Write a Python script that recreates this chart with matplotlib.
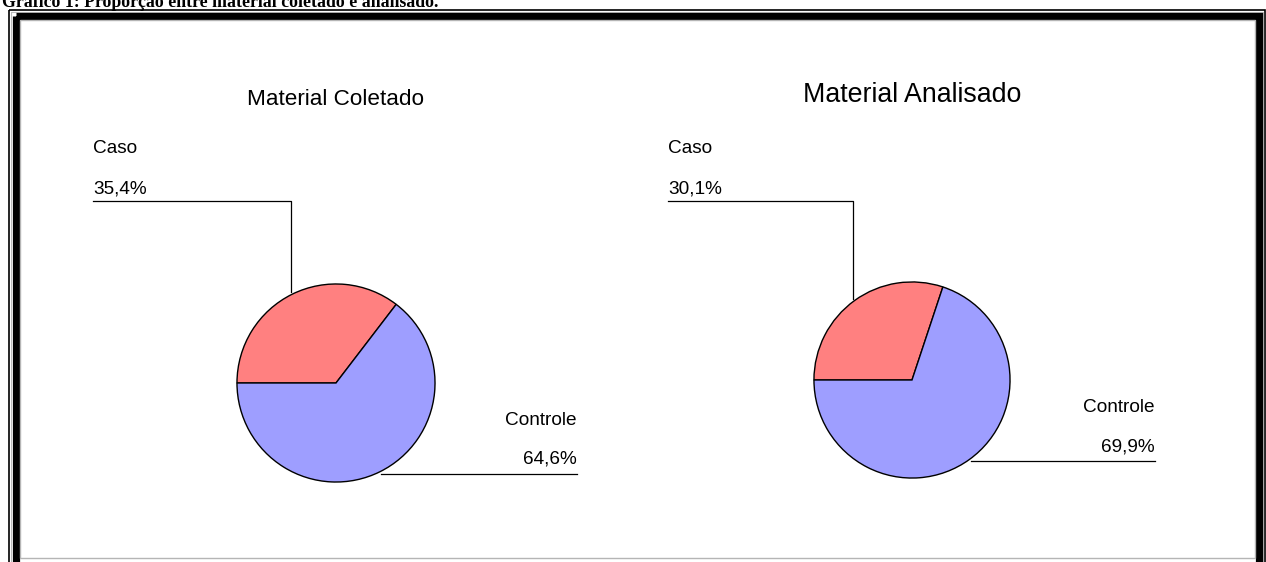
import numpy as np
import matplotlib.pyplot as plt
from matplotlib.patches import Rectangle

# Dados dos dois graficos de pizza
categorias = ["Caso", "Controle"]
coletado = [35.4, 64.6]
analisado = [30.1, 69.9]
titulos = ["Material Coletado", "Material Analisado"]
rotulos_coletado = ["35,4%", "64,6%"]
rotulos_analisado = ["30,1%", "69,9%"]

cores = ["#ff8080", "#9e9eff"]

W, H = 1266, 562
fig = plt.figure(figsize=(W / 100, H / 100), dpi=100)

# eixo de fundo em pixels (moldura, textos e linhas de chamada)
bg = fig.add_axes([0, 0, 1, 1])
bg.set_xlim(0, W)
bg.set_ylim(H, 0)
bg.axis("off")

# moldura dupla
bg.add_patch(Rectangle((8.5, 9.5), 1256, 600, fill=False, ec="black", lw=1.2))
bg.add_patch(Rectangle((10.5, 11.5), 1252.5, 600, fill=False, ec="#bbbbbb", lw=0.8))
bg.add_patch(Rectangle((15.5, 16), 1243.5, 600, fill=False, ec="black", lw=5.2,
                       joinstyle="miter"))
bg.add_patch(Rectangle((19.5, 19.5), 1235, 538.5, fill=False, ec="#b5b5b5", lw=1.0))

bg.text(2, 7, "Gráfico 1: Proporção entre material coletado e analisado.",
        fontfamily="Liberation Serif", fontweight="bold", fontsize=12.8,
        ha="left", va="baseline", color="black")

graficos = [
    dict(valores=coletado, rotulos=rotulos_coletado, titulo=titulos[0],
         cx=336, cy=383, r=101, tam_titulo=16.2, y_titulo=105,
         x_caso=93, x_ctrl=577, y_ctrl=425),
    dict(valores=analisado, rotulos=rotulos_analisado, titulo=titulos[1],
         cx=912, cy=380, r=100, tam_titulo=19.3, y_titulo=102,
         x_caso=668, x_ctrl=1155, y_ctrl=412),
]

fonte = "Liberation Sans"

for g in graficos:
    cx, cy, r = g["cx"], g["cy"], g["r"]
    ax = fig.add_axes([(cx - r) / W, 1 - (cy + r) / H, 2 * r / W, 2 * r / H])
    ax.pie(g["valores"], colors=cores, startangle=180, counterclock=False,
           radius=1, wedgeprops=dict(edgecolor="black", linewidth=1.0))
    ax.set_xlim(-1.02, 1.02)
    ax.set_ylim(-1.02, 1.02)
    ax.axis("off")

    bg.text(cx, g["y_titulo"], g["titulo"], fontfamily=fonte,
            fontsize=g["tam_titulo"], ha="center", va="baseline")

    # angulos medios das fatias (sentido horario a partir de 180 graus)
    total = sum(g["valores"])
    ang_caso = 180 - 360 * g["valores"][0] / total / 2
    ang_ctrl = 180 - 360 * g["valores"][0] / total - 360 * g["valores"][1] / total / 2

    # Caso: linha sobe da borda e segue para a esquerda
    px = cx + r * np.cos(np.radians(ang_caso))
    py = cy - r * np.sin(np.radians(ang_caso))
    bg.plot([px, px, g["x_caso"]], [py, 201, 201], color="black", lw=0.9)
    bg.text(g["x_caso"], 153, categorias[0], fontfamily=fonte, fontsize=13.7,
            ha="left", va="baseline")
    bg.text(g["x_caso"], 193, g["rotulos"][0], fontfamily=fonte, fontsize=13.7,
            ha="left", va="baseline")

    # Controle: linha horizontal da borda para a direita
    qx = cx + r * np.cos(np.radians(ang_ctrl))
    qy = cy - r * np.sin(np.radians(ang_ctrl))
    bg.plot([qx, g["x_ctrl"]], [qy, qy], color="black", lw=0.9)
    bg.text(g["x_ctrl"], g["y_ctrl"], categorias[1], fontfamily=fonte,
            fontsize=13.7, ha="right", va="baseline")
    bg.text(g["x_ctrl"], g["y_ctrl"] + 39, g["rotulos"][1], fontfamily=fonte,
            fontsize=13.7, ha="right", va="baseline")

fig.savefig("out.png", dpi=100)
